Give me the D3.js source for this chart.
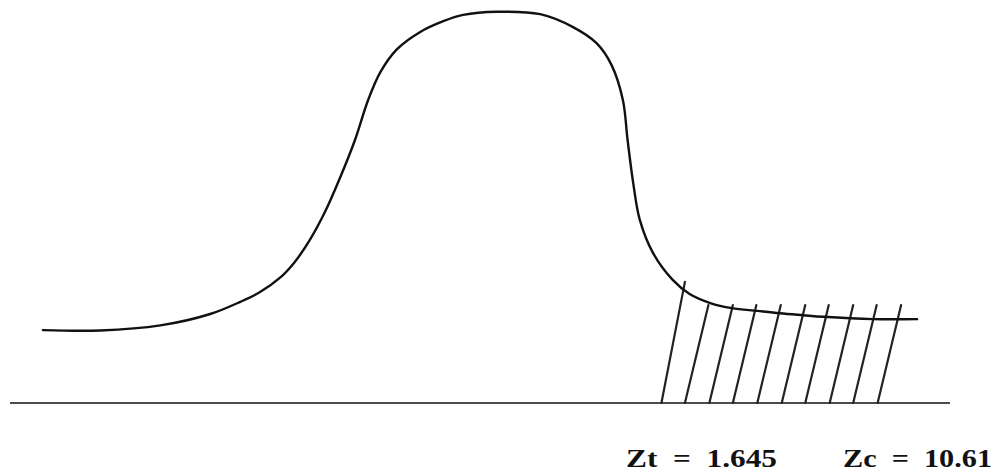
<!DOCTYPE html>
<html>
<head>
<meta charset="utf-8">
<script src="https://cdn.jsdelivr.net/npm/d3@7"></script>
<style>
  html, body { margin: 0; padding: 0; background: #fff; }
  #chart { width: 998px; height: 476px; }
  .zlabel { font-family: "Liberation Serif", "Times New Roman", serif; font-weight: bold; font-size: 26px; fill: #111; white-space: pre; }
</style>
</head>
<body>
<div id="chart"></div>
<script>
// curve (x: 0..100 along the baseline, y: 0..100 up to the peak)
const curveX = [3.5, 9.6, 16.0, 21.3, 24.5, 26.6, 28.7, 30.3, 31.9, 33.5, 35.1, 36.7, 38.1, 39.4, 41.1, 43.6, 46.1, 48.2, 51.8, 56.4, 59.9, 62.4, 64.0, 65.2, 65.7, 66.3, 67.0, 68.4, 70.5, 72.3, 74.5, 76.8, 79.5, 81.9, 84.4, 86.5, 91.8, 96.5];
const curveY = [18.6, 18.5, 19.8, 22.7, 25.8, 28.3, 31.9, 36.0, 41.6, 48.7, 57.4, 67.1, 77.3, 84.4, 90.1, 94.6, 97.4, 99.0, 99.8, 99.2, 95.9, 91.8, 86.2, 77.3, 67.1, 56.1, 46.7, 38.3, 31.4, 27.8, 25.5, 24.2, 23.5, 22.9, 22.4, 22.0, 21.4, 21.4];

// hatching in the rejection region
const hatchBottomX = [69.3, 71.8, 74.4, 76.9, 79.5, 82.1, 84.6, 87.2, 89.7, 92.3];
const hatchTopY = [30.9, 25.0, 25.0, 25.0, 25.0, 25.0, 25.0, 25.0, 25.0, 25.0];
const hatchLean = 2.5;

const labels = ["Zt  =  1.645", "Zc  =  10.61"];

const width = 998;
const height = 476;

const svg = d3.select("#chart").append("svg").attr("width", width).attr("height", height);

const x = d3.scaleLinear().domain([0, 100]).range([10, 950]);
const y = d3.scaleLinear().domain([0, 100]).range([403, 11]);

const points = curveX.map((v, i) => ({ x: v, y: curveY[i] }));

// baseline
svg
  .append("line")
  .attr("x1", x(0))
  .attr("x2", x(100))
  .attr("y1", y(0))
  .attr("y2", y(0))
  .attr("stroke", "#111")
  .attr("stroke-width", 1.6);

// hatch lines
svg
  .append("g")
  .selectAll("line")
  .data(hatchBottomX.map((v, i) => ({ x: v, top: hatchTopY[i] })))
  .join("line")
  .attr("x1", (d) => x(d.x))
  .attr("y1", y(0))
  .attr("x2", (d) => x(d.x + hatchLean))
  .attr("y2", (d) => y(d.top))
  .attr("stroke", "#222")
  .attr("stroke-width", 2.2)
  .attr("stroke-linecap", "round");

// bell curve
svg
  .append("path")
  .datum(points)
  .attr("fill", "none")
  .attr("stroke", "#111")
  .attr("stroke-width", 2.4)
  .attr("stroke-linecap", "round")
  .attr(
    "d",
    d3
      .line()
      .x((d) => x(d.x))
      .y((d) => y(d.y))
      .curve(d3.curveCatmullRom.alpha(0.5)),
  );

// critical values
const labelPos = [
  { x: 626, len: 151 },
  { x: 843, len: 149 },
];

svg
  .append("g")
  .selectAll("text")
  .data(labels)
  .join("text")
  .attr("class", "zlabel")
  .attr("x", (d, i) => labelPos[i].x)
  .attr("y", 467)
  .attr("textLength", (d, i) => labelPos[i].len)
  .attr("lengthAdjust", "spacingAndGlyphs")
  .text((d) => d);
</script>
</body>
</html>
